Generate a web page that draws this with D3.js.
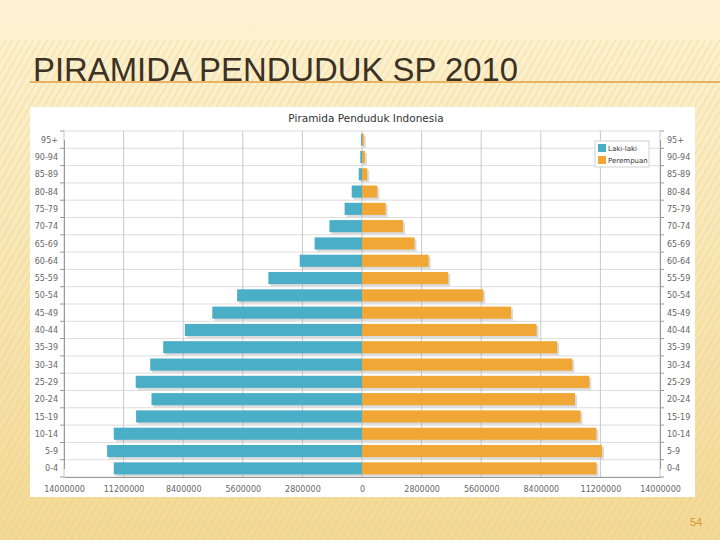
<!DOCTYPE html>
<html><head><meta charset="utf-8">
<script src="https://cdn.jsdelivr.net/npm/d3@7/dist/d3.min.js"></script>
<style>body{margin:0;padding:0;overflow:hidden}svg{display:block}</style>
</head><body>
<script>
const categories = ["95+","90-94","85-89","80-84","75-79","70-74","65-69","60-64","55-59","50-54","45-49","40-44","35-39","30-34","25-29","20-24","15-19","10-14","5-9","0-4"];
const male   = [45000, 82000, 155000, 483000, 817000, 1530000, 2225000, 2927000, 4400000, 5866000, 7033000, 8323000, 9338000, 9949000, 10631000, 9888000, 10614000, 11662000, 11974000, 11662000];
const female = [83000, 133000, 245000, 719000, 1112000, 1925000, 2469000, 3132000, 4048000, 5696000, 7008000, 8202000, 9168000, 9881000, 10679000, 10004000, 10266000, 11009000, 11279000, 11016000];
const tickValues = [-14000000,-11200000,-8400000,-5600000,-2800000,0,2800000,5600000,8400000,11200000,14000000];
const seriesNames = ["Laki-laki","Perempuan"];

const W=720,H=540;
const svg=d3.select("body").append("svg").attr("width",W).attr("height",H);
const defs=svg.append("defs");
const bg=defs.append("linearGradient").attr("id","bg").attr("x1",0).attr("y1",0).attr("x2",0).attr("y2",1);
bg.append("stop").attr("offset","0%").attr("stop-color","#FDF3D3");
bg.append("stop").attr("offset","100%").attr("stop-color","#F3D996");
const pat=defs.append("pattern").attr("id","stripes").attr("width",6).attr("height",6)
  .attr("patternUnits","userSpaceOnUse").attr("patternTransform","rotate(30)");
pat.append("rect").attr("width",2).attr("height",6).attr("fill","#E9C877").attr("opacity",0.25);
svg.append("rect").attr("width",W).attr("height",H).attr("fill","url(#bg)");
svg.append("rect").attr("y",40).attr("width",W).attr("height",H-40).attr("fill","url(#stripes)");

// slide title
svg.append("line").attr("x1",30).attr("x2",720).attr("y1",82).attr("y2",82).attr("stroke","#E3A043").attr("stroke-width",1.5);
svg.append("text").attr("x",33).attr("y",81).attr("font-family","'Liberation Sans Narrow','Arial Narrow','Liberation Sans',sans-serif")
  .attr("font-size",33).attr("fill","#3B3124").attr("textLength",485).attr("lengthAdjust","spacingAndGlyphs")
  .text("PIRAMIDA PENDUDUK SP 2010");

// chart panel
svg.append("rect").attr("x",30).attr("y",107).attr("width",665).attr("height",390).attr("fill","#fff");
svg.append("text").attr("x",366).attr("y",122).attr("text-anchor","middle").attr("font-family","'DejaVu Sans',sans-serif")
  .attr("font-size",10.5).attr("fill","#333").text("Piramida Penduduk Indonesia");

const L=64,R=660,T=131,B=477;
const x=d3.scaleLinear().domain([-14000000,14000000]).range([L,R]);
const y=d3.scaleBand().domain(categories).range([T,B]).paddingInner(0.3).paddingOuter(0.15);
const step=y.step();
const g=svg.append("g");
const bounds=d3.range(categories.length+1).map(i=>T+(B-T)*i/categories.length);
g.selectAll(".hg").data(bounds).join("line").attr("x1",L).attr("x2",R).attr("y1",d=>d).attr("y2",d=>d).attr("stroke","#DCDCDC");
g.selectAll(".vg").data(tickValues).join("line").attr("x1",d=>x(d)).attr("x2",d=>x(d)).attr("y1",T).attr("y2",B).attr("stroke","#C8C8C8");

const font="'DejaVu Sans',sans-serif";
const rows=categories.map((c,i)=>({c,m:male[i],f:female[i]}));
const bh=y.bandwidth();
g.selectAll(".ms").data(rows).join("rect").attr("x",d=>x(-d.m)+2).attr("y",d=>y(d.c)+2).attr("width",d=>x(0)-x(-d.m)).attr("height",bh).attr("fill","#999").attr("opacity",0.35);
g.selectAll(".fs").data(rows).join("rect").attr("x",x(0)+2).attr("y",d=>y(d.c)+2).attr("width",d=>x(d.f)-x(0)).attr("height",bh).attr("fill","#999").attr("opacity",0.35);
g.selectAll(".m").data(rows).join("rect").attr("x",d=>x(-d.m)).attr("y",d=>y(d.c)).attr("width",d=>x(0)-x(-d.m)).attr("height",bh).attr("fill","#4BAEC7");
g.selectAll(".f").data(rows).join("rect").attr("x",x(0)).attr("y",d=>y(d.c)).attr("width",d=>x(d.f)-x(0)).attr("height",bh).attr("fill","#F0A735");

const yl=d3.scalePoint().domain(categories).range([T+step/2,B-step/2]);
const la=svg.append("g").attr("transform",`translate(${L},0)`).call(d3.axisLeft(yl).tickSize(0).tickPadding(6));
const ra=svg.append("g").attr("transform",`translate(${R},0)`).call(d3.axisRight(yl).tickSize(0).tickPadding(7));
[la,ra].forEach(a=>{a.select(".domain").attr("stroke","#999");a.selectAll("text").attr("font-family",font).attr("font-size",8).attr("fill","#666");});
svg.append("g").selectAll("line").data(bounds).join("line").attr("x1",L-4).attr("x2",L).attr("y1",d=>d).attr("y2",d=>d).attr("stroke","#999");
svg.append("g").selectAll("line").data(bounds).join("line").attr("x1",R).attr("x2",R+4).attr("y1",d=>d).attr("y2",d=>d).attr("stroke","#999");
const ba=svg.append("g").attr("transform",`translate(0,${B})`).call(d3.axisBottom(x).tickValues(tickValues).tickSize(0).tickPadding(9).tickFormat(d=>Math.abs(d)));
ba.select(".domain").attr("stroke","#999");
ba.selectAll("text").attr("font-family",font).attr("font-size",8).attr("fill","#666");

const lg=svg.append("g").attr("transform","translate(595,141)");
lg.append("rect").attr("width",54).attr("height",26).attr("fill","#fff").attr("stroke","#D0D0D0");
const cols=["#4BAEC7","#F0A735"];
seriesNames.forEach((n,i)=>{
  lg.append("rect").attr("x",3).attr("y",3+i*12).attr("width",8).attr("height",8).attr("fill",cols[i]);
  lg.append("text").attr("x",13).attr("y",10+i*12).attr("font-family",font).attr("font-size",7).attr("fill","#333").text(n);
});

svg.append("text").attr("x",696).attr("y",526).attr("text-anchor","middle").attr("font-family","'Liberation Sans',sans-serif")
  .attr("font-size",11).attr("fill","#D09A3A").text("54");
</script>
</body></html>
